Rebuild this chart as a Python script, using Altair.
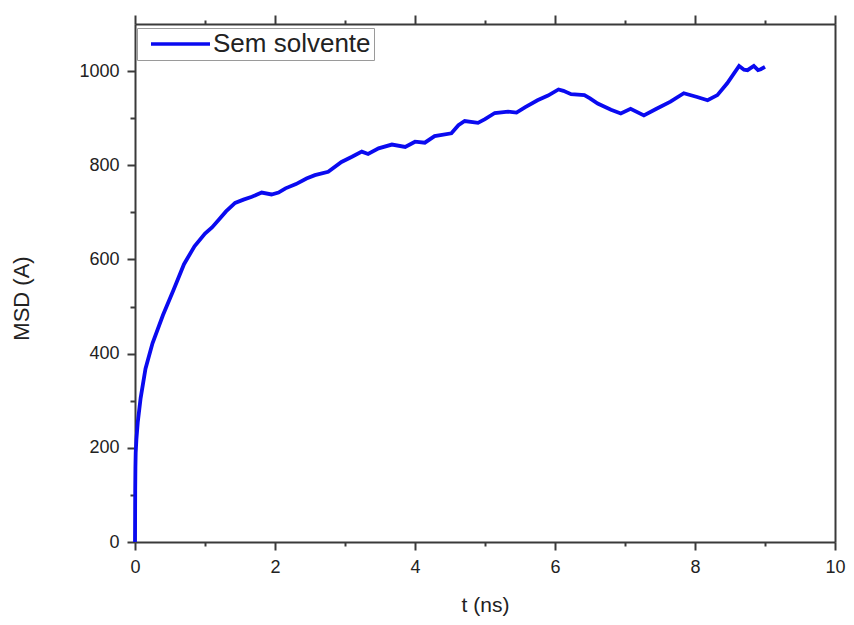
import altair as alt
import pandas as pd

series_name = "Sem solvente"
t_ns = [0, 0.003, 0.006, 0.01, 0.02, 0.04, 0.08, 0.15, 0.25, 0.4, 0.55, 0.7, 0.85, 1.0, 1.1,
        1.2, 1.3, 1.43, 1.55, 1.67, 1.81, 1.95, 2.05, 2.15, 2.3, 2.45, 2.57, 2.76, 2.95,
        3.1, 3.24, 3.33, 3.48, 3.67, 3.86, 4.0, 4.14, 4.28, 4.52, 4.62, 4.71, 4.9, 5.0,
        5.14, 5.33, 5.45, 5.57, 5.75, 5.9, 6.05, 6.12, 6.23, 6.42, 6.5, 6.61, 6.8, 6.94,
        7.08, 7.27, 7.45, 7.65, 7.84, 8.03, 8.18, 8.32, 8.46, 8.63, 8.7, 8.75, 8.84, 8.9,
        8.94, 9.0]
msd = [0, 110, 160, 190, 218, 255, 305, 368, 422, 482, 535, 590, 628, 655, 668,
       685, 702, 720, 727, 733, 742, 738, 742, 751, 760, 772, 779, 786, 807,
       818, 829, 824, 836, 844, 839, 850, 848, 862, 868, 885, 894, 890, 898,
       911, 914, 912, 923, 938, 948, 961, 958, 951, 949, 942, 931, 918, 910,
       920, 906, 920, 935, 953, 945, 938, 949, 974, 1011, 1003, 1002, 1011, 1002,
       1004, 1009]

x_ticks = list(range(0, 11))
y_ticks = list(range(0, 1001, 100))

df = pd.DataFrame({"t": t_ns, "msd": msd, "series": series_name})

FONT = "Liberation Sans"
AX = "#3a3a3a"
TXT = "#222222"

x_bottom = alt.Axis(
    orient="bottom", values=x_ticks, format="d", title="t (ns)",
    labelExpr="datum.value % 2 == 0 ? datum.label : ''", labelFlush=False,
    tickSize={"condition": {"test": "datum.value % 2 != 0", "value": 4}, "value": 8},
    tickColor=AX, tickWidth=2, domainColor=AX, domainWidth=2, grid=False,
    labelFont=FONT, labelFontSize=18, labelColor=TXT, labelPadding=8,
    titleFont=FONT, titleFontSize=21, titleFontWeight="normal", titleColor=TXT,
    titleY=63, titleBaseline="middle",
)
y_left = alt.Axis(
    orient="left", values=y_ticks, format="d", title="MSD (A)",
    labelExpr="datum.value % 200 == 0 ? datum.label : ''", labelFlush=False,
    tickSize={"condition": {"test": "datum.value % 200 != 0", "value": 5}, "value": 8},
    tickColor=AX, tickWidth=2, domainColor=AX, domainWidth=2, grid=False,
    labelFont=FONT, labelFontSize=18, labelColor=TXT, labelPadding=8,
    titleFont=FONT, titleFontSize=22, titleFontWeight="normal", titleColor=TXT,
    titleX=-114, titleY=274, titleBaseline="middle", titleAngle=270,
)
x_top = alt.Axis(
    orient="top", values=x_ticks, labels=False, title=None,
    tickSize={"condition": {"test": "datum.value % 2 != 0", "value": 4}, "value": 9},
    tickColor=AX, tickWidth=2, domainColor=AX, domainWidth=2, grid=False,
)
y_right = alt.Axis(
    orient="right", labels=False, ticks=False, title=None,
    domainColor=AX, domainWidth=2, grid=False,
)

xs = alt.Scale(domain=[0, 10], nice=False, zero=False)
ys = alt.Scale(domain=[0, 1100], nice=False)

line = alt.Chart(df).mark_line(strokeWidth=3.8).encode(
    x=alt.X("t:Q", scale=xs, axis=x_bottom),
    y=alt.Y("msd:Q", scale=ys, axis=y_left),
    color=alt.Color("series:N", scale=alt.Scale(range=["#0a0af0"]),
                    legend=alt.Legend(
                        title=None, orient="none", legendX=2, legendY=4,
                        symbolType="M-0.2,0H5.7", symbolSize=400, symbolStrokeWidth=3.6,
                        labelFont=FONT, labelFontSize=26, labelColor=TXT, labelOffset=47,
                        padding=3, strokeColor="#9a9a9a", fillColor="white",
                    )),
)
top = alt.Chart(df).mark_point(opacity=0).encode(
    x=alt.X("t:Q", scale=xs, axis=x_top),
    y=alt.Y("msd:Q", scale=ys, axis=y_right),
)

chart = alt.layer(line, top).properties(
    width=700, height=518,
    autosize=alt.AutoSizeParams(type="none"),
    padding={"left": 127, "top": 16, "right": 11, "bottom": 75},
).configure_view(strokeWidth=0).configure(background="white")

chart.save("out.html", embed_options={"renderer": "svg", "actions": False})
